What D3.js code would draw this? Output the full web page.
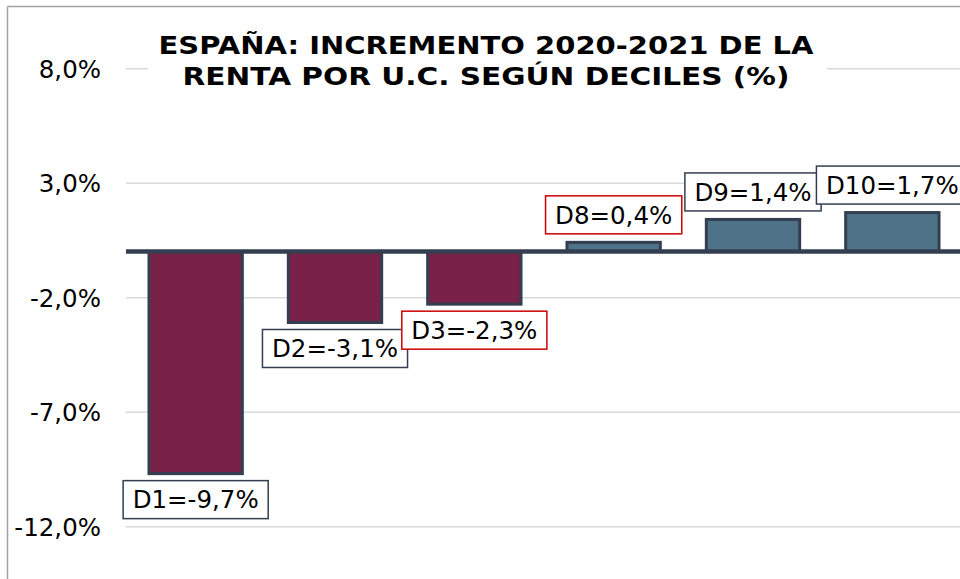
<!DOCTYPE html>
<html>
<head>
<meta charset="utf-8">
<script src="https://cdn.jsdelivr.net/npm/d3@7"></script>
<style>
  html, body { margin: 0; padding: 0; background: #fff; }
  svg { display: block; }
</style>
</head>
<body>
<svg id="chart" width="960" height="579"></svg>
<script>
// Deciles shown and their 2020-2021 change in income per consumption unit (%)
const categories = ["D1", "D2", "D3", "D8", "D9", "D10"];
const values = [-9.7, -3.1, -2.3, 0.4, 1.4, 1.7];
// Deciles whose label box is outlined in red
const highlighted = ["D3", "D8"];
const tickValues = [8, 3, -2, -7, -12];
const titleLines = [
  "ESPAÑA: INCREMENTO 2020-2021 DE LA",
  "RENTA POR U.C. SEGÚN DECILES (%)"
];

const W = 960, H = 579;
const svg = d3.select("#chart");
const font = "'DejaVu Sans', Verdana, sans-serif";
// Spanish style: decimal comma, plain hyphen for negatives
const comma = n => d3.format(".1f")(n).replace("\u2212", "-").replace(".", ",");

const x = d3.scaleBand()
  .domain(categories)
  .range([126, 962])
  .paddingInner(0.33)
  .paddingOuter(0.165);

const y = d3.scaleLinear()
  .domain([-12, 8])
  .range([526.3, 68.3]);

// outer frame (top and left edges)
svg.append("line").attr("x1", 7.5).attr("x2", W).attr("y1", 6.5).attr("y2", 6.5)
  .attr("stroke", "#a3a3a3").attr("stroke-width", 1.5);
svg.append("line").attr("x1", 7.5).attr("x2", 7.5).attr("y1", 6.5).attr("y2", H)
  .attr("stroke", "#a3a3a3").attr("stroke-width", 1.5);

// y axis: gridlines and labels
const yAxis = d3.axisLeft(y)
  .tickValues(tickValues)
  .tickSize(-(W - 126))
  .tickPadding(25)
  .tickFormat(d => comma(d) + "%");

const gy = svg.append("g").attr("transform", "translate(126,0)").call(yAxis);
gy.select(".domain").remove();
gy.selectAll(".tick line").attr("stroke", "#d9d9d9").attr("stroke-width", 1.5);
gy.selectAll(".tick text")
  .attr("font-family", font)
  .attr("font-size", 24.5)
  .attr("fill", "#000")
  .attr("dy", "0.36em");

// bars
const barColor = v => v < 0 ? "#7a2149" : "#4e7288";
svg.append("g").selectAll("rect")
  .data(categories)
  .join("rect")
  .attr("x", d => x(d))
  .attr("width", x.bandwidth())
  .attr("y", (d, i) => Math.min(y(0), y(values[i])))
  .attr("height", (d, i) => Math.abs(y(values[i]) - y(0)))
  .attr("fill", (d, i) => barColor(values[i]))
  .attr("stroke", "#333f50")
  .attr("stroke-width", 3);

// zero baseline
svg.append("line")
  .attr("x1", 126).attr("x2", W)
  .attr("y1", y(0)).attr("y2", y(0))
  .attr("stroke", "#333f50")
  .attr("stroke-width", 4.5);

// value labels in boxes
const labels = svg.append("g").selectAll("g")
  .data(categories)
  .join("g");

labels.each(function(d, i) {
  const g = d3.select(this);
  const v = values[i];
  const cx = x(d) + x.bandwidth() / 2;
  const boxH = 38;
  const top = v < 0 ? y(v) + 7 : y(v) - 8.5 - boxH;
  const rect = g.append("rect");
  const t = g.append("text")
    .attr("x", cx)
    .attr("y", top + boxH / 2)
    .attr("dy", "0.36em")
    .attr("text-anchor", "middle")
    .attr("font-family", font)
    .attr("font-size", 24.5)
    .attr("fill", "#000")
    .text(d + "=" + comma(v) + "%");
  const tw = t.node().getComputedTextLength();
  const boxW = tw + 19;
  rect.attr("x", cx - boxW / 2)
    .attr("y", top)
    .attr("width", boxW)
    .attr("height", boxH)
    .attr("fill", "#fff")
    .attr("stroke", highlighted.includes(d) ? "#cc0000" : "#333f50")
    .attr("stroke-width", 1.5);
});

// title with white backing over the top gridline
svg.append("rect")
  .attr("x", 148).attr("y", 26)
  .attr("width", 679).attr("height", 72)
  .attr("fill", "#fff");

const titleWidths = [655, 607];
svg.append("g").selectAll("text")
  .data(titleLines)
  .join("text")
  .attr("x", 486)
  .attr("y", (d, i) => 53.8 + i * 31)
  .attr("text-anchor", "middle")
  .attr("font-family", font)
  .attr("font-weight", "bold")
  .attr("font-size", 24)
  .attr("fill", "#000")
  .attr("textLength", (d, i) => titleWidths[i])
  .attr("lengthAdjust", "spacingAndGlyphs")
  .text(d => d);
</script>
</body>
</html>
